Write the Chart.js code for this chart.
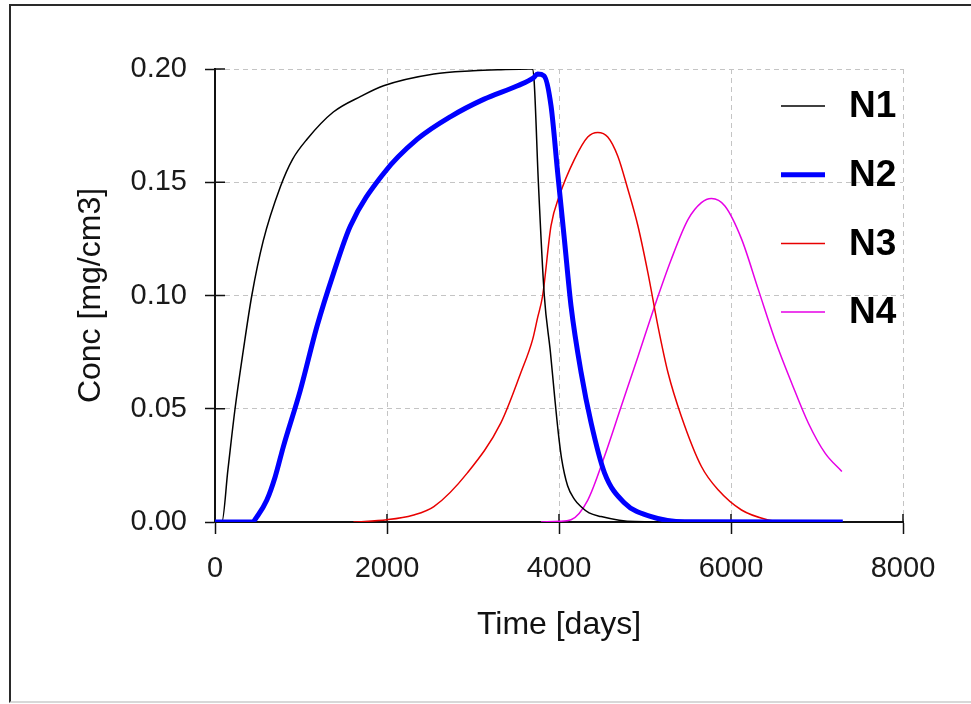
<!DOCTYPE html>
<html>
<head>
<meta charset="utf-8">
<script src="https://cdn.jsdelivr.net/npm/chart.js@4.4.1/dist/chart.umd.min.js"></script>
<style>
  html, body { margin: 0; padding: 0; background: #fff; }
  #wrap { position: relative; width: 971px; height: 704px; overflow: hidden; }
  #frame {
    position: absolute; left: 9px; top: 4px; width: 1000px; height: 695px;
    border-left: 2px solid #2a2a2a; border-top: 2px solid #2a2a2a;
    border-bottom: 2px solid #d8d8d8; pointer-events: none;
  }
  canvas { position: absolute; left: 0; top: 0; }
</style>
</head>
<body>
<div id="wrap">
  <canvas id="chart" width="971" height="704"></canvas>
  <div id="frame"></div>
</div>
<script>
// ── Series (Time [days] → Conc [mg/cm3]) ──
const n1X = [0, 80, 150, 233, 330, 428, 560, 760, 900, 1070, 1376, 1700, 1960, 2545, 3000, 3325, 3650, 3690, 3712, 3760, 3829, 3900, 3950, 3990, 4030, 4100, 4180, 4257, 4350, 4490, 4700, 4880, 5500, 7300];
const n1Y = [0, 0, 0.023, 0.05, 0.076, 0.10, 0.124, 0.148, 0.160, 0.169, 0.181, 0.188, 0.1926, 0.1978, 0.1992, 0.1997, 0.2, 0.2, 0.194, 0.15, 0.10, 0.075, 0.055, 0.04, 0.028, 0.016, 0.010, 0.0067, 0.004, 0.0024, 0.0008, 0.0002, 0, 0];

const n2X = [0, 430, 500, 603, 700, 795, 991, 1186, 1380, 1574, 1963, 2352, 2740, 3129, 3518, 3700, 3751, 3826, 3907, 3985, 4062, 4140, 4257, 4373, 4529, 4762, 5073, 5462, 7300];
const n2Y = [0, 0, 0.003, 0.0097, 0.02, 0.0333, 0.058, 0.0864, 0.110, 0.1307, 0.154, 0.169, 0.179, 0.1867, 0.1926, 0.196, 0.1978, 0.197, 0.1838, 0.154, 0.125, 0.0953, 0.066, 0.0438, 0.0217, 0.0084, 0.0024, 0.0001, 0];

const n3X = [1610, 2000, 2300, 2545, 2935, 3324, 3557, 3693, 3750, 3810, 3907, 4004, 4178, 4334, 4451, 4567, 4684, 4800, 4918, 5034, 5151, 5267, 5423, 5656, 5850, 6122, 6433, 6600, 7300];
const n3Y = [0, 0.001, 0.003, 0.0068, 0.0217, 0.0438, 0.066, 0.0805, 0.09, 0.10, 0.1307, 0.144, 0.160, 0.170, 0.172, 0.170, 0.1615, 0.147, 0.1307, 0.110, 0.0864, 0.066, 0.0466, 0.0245, 0.0142, 0.0053, 0.0009, 0, 0];

const n4X = [3790, 4000, 4140, 4335, 4529, 4723, 4918, 5112, 5306, 5501, 5656, 5773, 5929, 6122, 6317, 6511, 6706, 6900, 7094, 7289];
const n4Y = [0, 0.0003, 0.001, 0.0097, 0.029, 0.051, 0.073, 0.0953, 0.116, 0.1336, 0.141, 0.1428, 0.1395, 0.125, 0.1027, 0.0805, 0.0613, 0.0436, 0.0304, 0.0223];

const seriesNames  = ["N1", "N2", "N3", "N4"];
const xTickValues  = [0, 2000, 4000, 6000, 8000];
const yTickValues  = [0, 0.05, 0.10, 0.15, 0.20];

const FONT = "'Liberation Sans', Arial, sans-serif";

const toPoints = (xs, ys) => xs.map((x, i) => ({ x, y: ys[i] }));

// ── inner half of the tick marks (ticks cross the axis) ──
const innerTicks = {
  id: "innerTicks",
  beforeDatasetsDraw(chart) {
    const { ctx, chartArea, scales } = chart;
    ctx.save();
    ctx.strokeStyle = "#111";
    ctx.lineWidth = 1.5;
    ctx.beginPath();
    yTickValues.forEach(v => {
      const y = scales.y.getPixelForValue(v);
      ctx.moveTo(chartArea.left, y);
      ctx.lineTo(chartArea.left + 10, y);
    });
    xTickValues.forEach(v => {
      const x = scales.x.getPixelForValue(v);
      ctx.moveTo(x, chartArea.bottom);
      ctx.lineTo(x, chartArea.bottom - 8);
    });
    ctx.stroke();
    ctx.restore();
  }
};

// ── legend drawn inside the plot, top right ──
const sideLegend = {
  id: "sideLegend",
  afterDraw(chart) {
    const { ctx } = chart;
    ctx.save();
    ctx.font = `bold 37px ${FONT}`;
    ctx.textBaseline = "middle";
    ctx.textAlign = "left";
    chart.data.datasets.forEach((ds, i) => {
      const y = 106 + i * 68.7;
      ctx.strokeStyle = ds.borderColor;
      ctx.lineWidth = ds.borderWidth;
      ctx.beginPath();
      ctx.moveTo(781, y);
      ctx.lineTo(825, y);
      ctx.stroke();
      ctx.fillStyle = "#000";
      ctx.fillText(ds.label, 849, y + 1);
    });
    ctx.restore();
  }
};

const lineBase = {
  pointRadius: 0,
  fill: false,
  cubicInterpolationMode: "monotone",
  borderJoinStyle: "round"
};

new Chart(document.getElementById("chart"), {
  type: "line",
  data: {
    datasets: [
      { ...lineBase, label: seriesNames[0], data: toPoints(n1X, n1Y), borderColor: "#000000", borderWidth: 1.5, order: 1 },
      { ...lineBase, label: seriesNames[1], data: toPoints(n2X, n2Y), borderColor: "#0000ff", borderWidth: 5, order: 0 },
      { ...lineBase, label: seriesNames[2], data: toPoints(n3X, n3Y), borderColor: "#e80000", borderWidth: 1.5, order: 1 },
      { ...lineBase, label: seriesNames[3], data: toPoints(n4X, n4Y), borderColor: "#e600e6", borderWidth: 1.5, order: 1 }
    ]
  },
  options: {
    responsive: false,
    animation: false,
    events: [],
    layout: { padding: { top: 69, right: 68, bottom: 0, left: 0 } },
    plugins: {
      legend: { display: false },
      tooltip: { enabled: false }
    },
    scales: {
      x: {
        type: "linear",
        min: 0,
        max: 8000,
        afterFit: s => { s.height = 182; },
        afterBuildTicks: s => { s.ticks = xTickValues.map(v => ({ value: v })); },
        grid: {
          color: "#c4c4c4",
          lineWidth: 1,
          tickLength: 12,
          tickColor: "#111",
          tickWidth: 1.5,
          tickBorderDash: []
        },
        border: { display: true, color: "#111", width: 2, dash: [5, 4] },
        ticks: {
          padding: 18,
          color: "#1a1a1a",
          font: { family: FONT, size: 29 },
          callback: v => String(v)
        },
        title: {
          display: true,
          text: "Time [days]",
          color: "#111",
          font: { family: FONT, size: 32 },
          padding: { top: 0, bottom: 60 }
        }
      },
      y: {
        type: "linear",
        min: 0,
        max: 0.2,
        afterFit: s => { s.width = 215; },
        afterBuildTicks: s => { s.ticks = yTickValues.map(v => ({ value: v })); },
        grid: {
          color: "#c4c4c4",
          lineWidth: 1,
          tickLength: 10,
          tickColor: "#111",
          tickWidth: 1.5,
          tickBorderDash: []
        },
        border: { display: true, color: "#111", width: 2, dash: [5, 4] },
        ticks: {
          padding: 18,
          color: "#1a1a1a",
          font: { family: FONT, size: 29 },
          callback: v => v.toFixed(2)
        },
        title: {
          display: true,
          text: "Conc [mg/cm3]",
          color: "#111",
          font: { family: FONT, size: 32 },
          padding: { top: 72, bottom: 0 }
        }
      }
    }
  },
  plugins: [innerTicks, sideLegend]
});
</script>
</body>
</html>
